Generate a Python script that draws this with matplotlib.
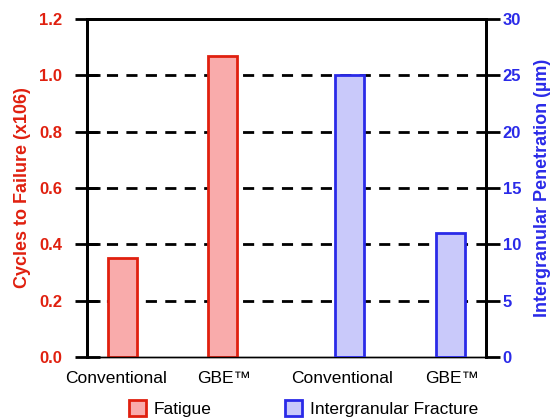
import matplotlib.pyplot as plt
from matplotlib.patches import Patch

plt.rcParams["font.family"] = ["Liberation Sans", "DejaVu Sans"]

categories = ["Conventional", "GBE\u2122", "Conventional", "GBE\u2122"]
fatigue_cycles = [0.35, 1.07]        # x10^6
ig_penetration = [25.0, 11.0]        # um

red_edge = "#e0200f"
red_fill = "#f9abab"
blue_edge = "#2a2ae8"
blue_fill = "#c9c9fa"

xpos = [0, 1, 2.27, 3.28]
label_pos = [-0.06, 1.02, 2.2, 3.3]
w = 0.29

fig = plt.figure(figsize=(5.5, 4.2), dpi=100)
ax = fig.add_axes([87 / 550, 63 / 420, 399 / 550, 338 / 420])
ax2 = ax.twinx()

ax.bar(xpos[:2], fatigue_cycles, width=w, color=red_fill, edgecolor=red_edge, linewidth=2, zorder=3)
ax2.bar(xpos[2:], ig_penetration, width=w, color=blue_fill, edgecolor=blue_edge, linewidth=2, zorder=3)

ax.set_xlim(-0.35, 3.64)
ax.set_ylim(0, 1.2)
ax2.set_ylim(0, 30)

for y in [0.2, 0.4, 0.6, 0.8, 1.0]:
    ax.axhline(y, color="black", linestyle=(0, (4, 3)), linewidth=2, zorder=1)

ax.set_yticks([0.0, 0.2, 0.4, 0.6, 0.8, 1.0, 1.2])
ax.set_yticklabels([f"{v:.1f}" for v in ax.get_yticks()])
ax2.set_yticks(range(0, 31, 5))

ax.set_xticks(label_pos)
ax.set_xticklabels(categories, fontsize=12.5)
ax.tick_params(axis="x", length=0, pad=10)
ax.tick_params(axis="y", direction="inout", length=18, width=2, colors=red_edge,
               labelsize=12, pad=9)
ax2.tick_params(axis="y", direction="out", length=10, width=2, colors=blue_edge,
                labelsize=12, pad=2)
for lab in ax.get_yticklabels():
    lab.set_fontweight("bold")
for lab in ax2.get_yticklabels():
    lab.set_fontweight("bold")
ax.tick_params(axis="y", color="black")
ax2.tick_params(axis="y", color="black")

for a in (ax, ax2):
    for s in a.spines.values():
        s.set_linewidth(2)
    a.spines["bottom"].set_linewidth(1)
    a.patch.set_visible(False)

ax.set_ylabel("Cycles to Failure (x106)", color=red_edge, fontweight="bold", fontsize=13, labelpad=6)
ax2.set_ylabel("Intergranular Penetration (\u00b5m)", color=blue_edge, fontweight="bold",
               fontsize=13, labelpad=9)

handles = [Patch(facecolor=red_fill, edgecolor=red_edge, linewidth=2, label="Fatigue"),
           Patch(facecolor=blue_fill, edgecolor=blue_edge, linewidth=2, label="Intergranular Fracture")]
fig.legend(handles=handles, loc="lower center", bbox_to_anchor=(0.552, -0.03), ncol=2,
           frameon=False, fontsize=12.5, handlelength=1.0, handleheight=1.0,
           columnspacing=4.2, handletextpad=0.45)

fig.savefig("out.png", dpi=100)
